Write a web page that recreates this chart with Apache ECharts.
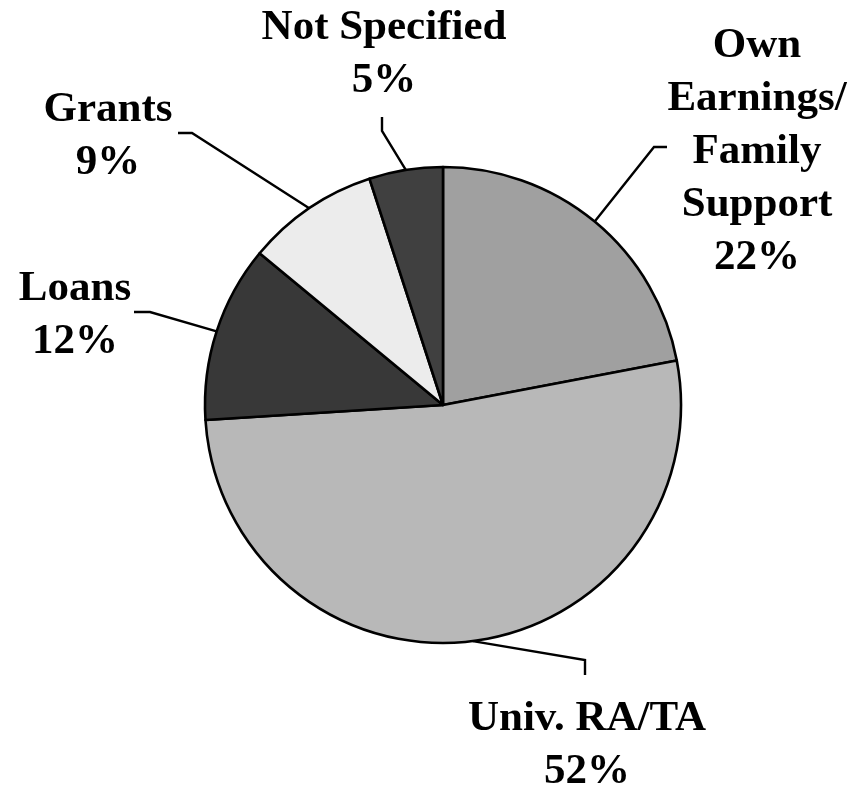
<!DOCTYPE html>
<html>
<head>
<meta charset="utf-8">
<script src="https://cdn.jsdelivr.net/npm/echarts@6/dist/echarts.min.js"></script>
<style>
  html, body { margin: 0; padding: 0; background: #fff; }
  #pie { width: 866px; height: 788px; }
</style>
</head>
<body>
<div id="pie"></div>
<script>
// slices, clockwise from 12 o'clock
var names = ["Own\nEarnings/\nFamily\nSupport", "Univ. RA/TA", "Loans", "Grants", "Not Specified"];
var values = [22, 52, 12, 9, 5];
var colors = ["#a0a0a0", "#b8b8b8", "#383838", "#ececec", "#404040"];

// label centre and leader elbow/end points (px)
var labelPos = [[757, 152], [587, 745], [75, 315], [108, 136], [384, 54]];
var elbows = [
  [[654, 147], [667, 147]],
  [[585, 660], [585, 675]],
  [[150, 312], [134, 312]],
  [[192, 133], [178, 133]],
  [[382, 131], [382, 117]]
];

var chart = echarts.init(document.getElementById("pie"));
chart.setOption({
  animation: false,
  series: [
    {
      type: "pie",
      center: [443, 405],
      radius: 238,
      startAngle: 90,
      clockwise: true,
      data: names.map(function (n, i) {
        return { name: n, value: values[i], itemStyle: { color: colors[i] } };
      }),
      itemStyle: { borderColor: "#000", borderWidth: 2.6 },
      label: {
        show: true,
        position: "outside",
        formatter: "{b}\n{c}%",
        fontFamily: "'Liberation Serif', 'Times New Roman', serif",
        fontWeight: "bold",
        fontSize: 43,
        lineHeight: 53,
        color: "#000",
        align: "center"
      },
      labelLine: {
        show: true,
        length: 20,
        length2: 10,
        lineStyle: { color: "#000", width: 2.4 }
      },
      labelLayout: function (params) {
        var i = params.dataIndex;
        var start = params.labelLinePoints ? params.labelLinePoints[0] : elbows[i][0];
        return {
          x: labelPos[i][0],
          y: labelPos[i][1],
          align: "center",
          verticalAlign: "middle",
          labelLinePoints: [start, elbows[i][0], elbows[i][1]]
        };
      },
      emphasis: { disabled: true }
    }
  ]
});
</script>
</body>
</html>
